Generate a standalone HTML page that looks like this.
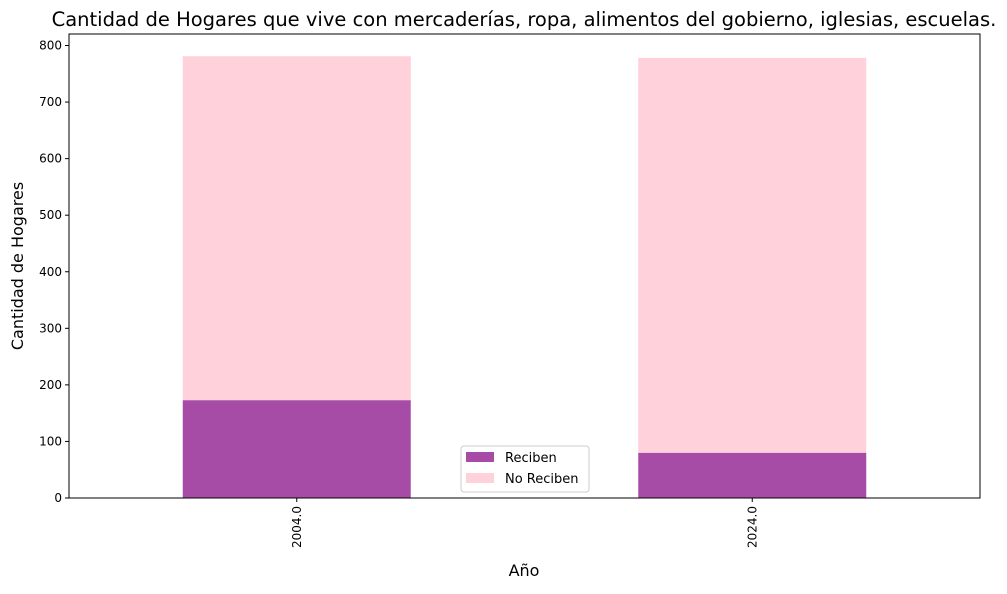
<!DOCTYPE html>
<html><head><meta charset="utf-8"><style>
body{margin:0;background:#fff;font-family:"DejaVu Sans","Liberation Sans",sans-serif}
svg text{font-family:"DejaVu Sans","Liberation Sans",sans-serif}
</style></head><body>
<svg id="c" width="1007" height="590" xmlns="http://www.w3.org/2000/svg"></svg>
<script>
const categories=["2004.0","2024.0"];
const reciben=[173,80];
const noReciben=[608,698];
const yTicks=[0,100,200,300,400,500,600,700,800];
const svg=document.getElementById('c');
const NS='http://www.w3.org/2000/svg';
const L=69,R=980,T=34,B=498;
const y=v=>B-v*(B-45.5)/800;
const xc=i=>L+(i+0.5)*(R-L)/categories.length;
const bw=228;
function el(t,a,txt){const e=document.createElementNS(NS,t);for(const k in a)e.setAttribute(k,a[k]);if(txt!==undefined)e.textContent=txt;svg.appendChild(e);return e;}
const ti=el('text',{x:524,y:26,'text-anchor':'middle','font-size':19.5,fill:'#000'},'Cantidad de Hogares que vive con mercaderías, ropa, alimentos del gobierno, iglesias, escuelas.');


categories.forEach((c,i)=>{
  const x=xc(i)-bw/2;
  const b1=el('rect',{x:x,y:y(reciben[i]),width:bw,height:y(0)-y(reciben[i]),fill:'#a64ca6'});
  
  
  const tot=reciben[i]+noReciben[i];
  const b2=el('rect',{x:x,y:y(tot),width:bw,height:y(reciben[i])-y(tot),fill:'#ffd1da'});
  
  
  el('line',{x1:xc(i),x2:xc(i),y1:B,y2:B+4,stroke:'#000'});
  const t=el('text',{transform:`translate(${xc(i)+4},${B+8}) rotate(-90)`,'text-anchor':'end','font-size':12},c);
  
  
});
yTicks.forEach(v=>{
  el('line',{x1:L-4,x2:L,y1:y(v),y2:y(v),stroke:'#000'});
  const t=el('text',{x:L-7,y:y(v)+4,'text-anchor':'end','font-size':12},v);
  
  
});
const ax=el('rect',{x:L,y:T,width:R-L,height:B-T,fill:'none',stroke:'#000','stroke-width':1});


const xl=el('text',{x:524,y:576,'text-anchor':'middle','font-size':16},'Año');


const yl=el('text',{transform:'translate(23,266) rotate(-90)','text-anchor':'middle','font-size':16},'Cantidad de Hogares');


const lb=el('rect',{x:461,y:446,width:128,height:46,rx:3,fill:'#fff',stroke:'#ccc'});


el('rect',{x:466,y:452,width:28,height:10,fill:'#a64ca6'});
const l1=el('text',{x:505,y:462,'font-size':13},'Reciben');


el('rect',{x:466,y:473,width:28,height:10,fill:'#ffd1da'});
const l2=el('text',{x:505,y:483,'font-size':13},'No Reciben');


</script>
</body></html>
